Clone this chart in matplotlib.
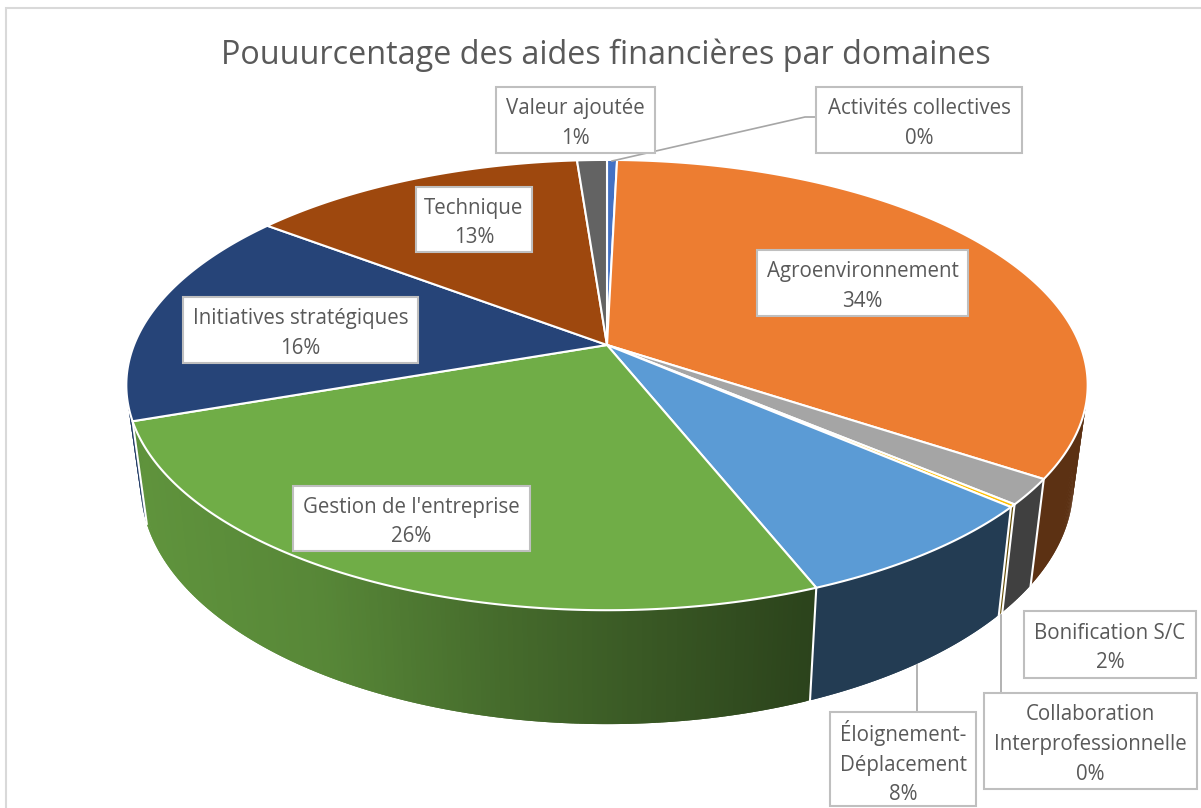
import numpy as np
import matplotlib
matplotlib.use("Agg")
import matplotlib.pyplot as plt
from matplotlib.patches import Rectangle

plt.rcParams['font.family'] = ['Open Sans', 'DejaVu Sans']

title = "Pouuurcentage des aides financières par domaines"
names = ["Activités collectives", "Agroenvironnement", "Bonification S/C",
         "Collaboration\nInterprofessionnelle", "Éloignement-\nDéplacement",
         "Gestion de l'entreprise", "Initiatives stratégiques", "Technique",
         "Valeur ajoutée"]
values = [0.4, 33.95, 1.85, 0.2, 7.58, 25.68, 15.7, 13.45, 1.19]
colors = ["#4472C4", "#ED7D31", "#A5A5A5", "#FFC000", "#5B9BD5",
          "#70AD47", "#264478", "#9E480E", "#636363"]

# label boxes, pixels: left, top, right, bottom
boxes = [(816, 87, 1022, 153), (757, 250, 968, 316), (1024, 611, 1196, 678),
         (984, 693, 1197, 789), (830, 712, 976, 806), (293, 486, 530, 551),
         (183, 297, 418, 363), (416, 187, 532, 252), (496, 87, 655, 153)]
leaders = [[(816, 117), (805, 117), (612, 161)],
           [(917, 665), (917, 712)],
           [(1001, 615), (1001, 693)]]

# perspective of the disc
cx, cy = 607, 345
R, A, K = 473, 218, 0.178
SX, SY, DROP = 0.97, 1.06, 98


def project(theta, bottom=False):
    u = np.sin(theta)
    v = np.cos(theta)
    w = 1 + K * v
    x = R * u / w
    y = A * v / w
    if bottom:
        x = x * SX
        y = y * SY - DROP
    return cx + x, cy - y


def shade(color, x):
    f = np.interp(x, [140, 320, 500, 660, 810], [0.85, 0.78, 0.62, 0.5, 0.39])
    return tuple(np.array(matplotlib.colors.to_rgb(color)) * f)


fig = plt.figure(figsize=(12.01, 8.08), dpi=100)
ax = fig.add_axes([0, 0, 1, 1])
ax.set_xlim(0, 1201)
ax.set_ylim(808, 0)
ax.axis('off')

# chart frame
ax.plot([6, 6, 1201], [808, 8, 8], color="#D9D9D9", lw=1.5, solid_joinstyle='miter')

edges = 2 * np.pi * np.cumsum([0] + values) / sum(values)
order = np.argsort(-np.cos((edges[:-1] + edges[1:]) / 2))

# walls, back to front
for i in order:
    n = max(2, int(np.degrees(edges[i + 1] - edges[i]) * 2))
    t = np.linspace(edges[i], edges[i + 1], n + 1)
    tx, ty = project(t)
    bx, by = project(t, True)
    # each strip overlaps the next one so no seams show
    for j in range(n):
        k = min(j + 2, n)
        c = shade(colors[i], (tx[j] + tx[j + 1]) / 2)
        ax.fill([tx[j], tx[k], bx[k], bx[j]], [ty[j], ty[k], by[k], by[j]],
                facecolor=c, edgecolor='none', zorder=2)

for e in edges:
    if np.cos(e) < 0:
        tx, ty = project(e)
        bx, by = project(e, True)
        ax.plot([tx, bx], [ty, by], color="white", lw=1.5, zorder=3)

# top faces
for i in range(len(values)):
    t = np.linspace(edges[i], edges[i + 1], 200)
    tx, ty = project(t)
    ax.fill(np.r_[cx, tx], np.r_[cy, ty], facecolor=colors[i], edgecolor="white",
            lw=1.5, joinstyle='round', zorder=4)

for pts in leaders:
    ax.plot(*zip(*pts), color="#A6A6A6", lw=1.2, zorder=5)

for name, val, b in zip(names, values, boxes):
    ax.add_patch(Rectangle((b[0], b[1]), b[2] - b[0], b[3] - b[1], facecolor="white",
                           edgecolor="#BFBFBF", lw=1.5, zorder=6))
    ax.text((b[0] + b[2]) / 2, (b[1] + b[3]) / 2 + 3.5, "%s\n%d%%" % (name, round(val)),
            ha='center', va='center', fontsize=14.8, color="#595959", linespacing=1.55, zorder=7)

ax.text(606, 55, title, ha='center', va='center', fontsize=23.3, color="#595959", zorder=7)

fig.savefig("out.png", dpi=100)
